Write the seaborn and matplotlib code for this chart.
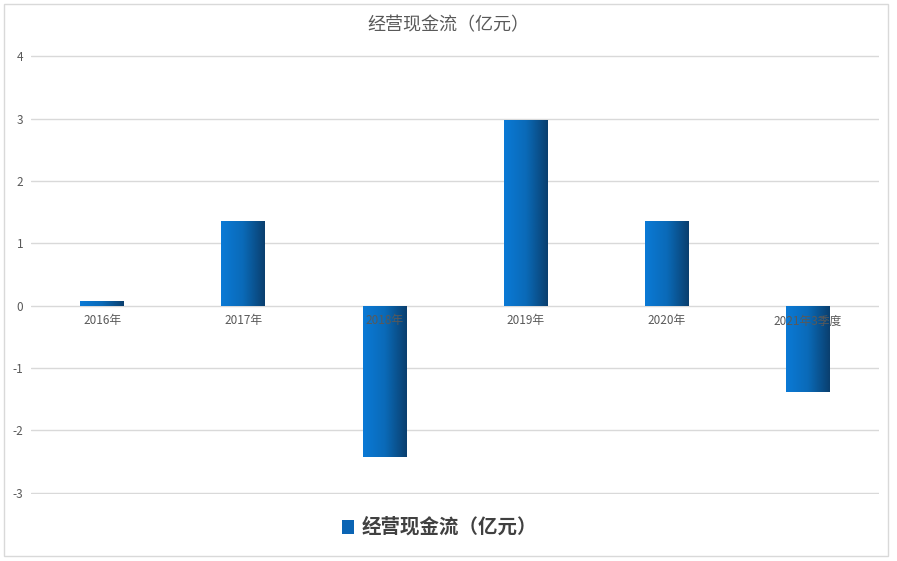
import matplotlib.pyplot as plt
import matplotlib.colors as mcolors
import numpy as np
import pandas as pd
import seaborn as sns

# data
categories = ["2016年", "2017年", "2018年", "2019年", "2020年", "2021年3季度"]
values = [0.08, 1.36, -2.43, 2.97, 1.36, -1.39]
title = "经营现金流（亿元）"

df = pd.DataFrame({"cat": categories, "val": values})

sns.set_theme(style="white")
plt.rcParams["font.family"] = ["Noto Sans CJK SC", "DejaVu Sans"]
plt.rcParams["axes.unicode_minus"] = False

fig = plt.figure(figsize=(8.97, 5.61), dpi=100)
ax = fig.add_axes([0.0351, 0.1194, 0.9443, 0.7826])

sns.barplot(data=df, x="cat", y="val", ax=ax, width=0.31, color="#0a6cc0",
            saturation=1, zorder=3)

# gradient fill (light blue on the left to dark navy on the right)
cmap = mcolors.LinearSegmentedColormap.from_list(
    "bar", ["#0b7ad6", "#0a6ab8", "#0a3f6e"])
grad = np.linspace(0, 1, 256).reshape(1, -1)
for p in ax.patches:
    x0, y0 = p.get_x(), p.get_y()
    w, h = p.get_width(), p.get_height()
    im = ax.imshow(grad, cmap=cmap, aspect="auto", zorder=4,
                   extent=[x0, x0 + w, min(y0, y0 + h), max(y0, y0 + h)])
    im.set_clip_path(p)
    p.set_edgecolor("none")

ax.set_xlim(-0.5, len(categories) - 0.5)
ax.set_ylim(-3.02, 4.02)
ax.set_yticks(range(-3, 5))
ax.yaxis.grid(True, color="#d9d9d9", linewidth=1, zorder=0)
ax.set_xlabel("")
ax.set_ylabel("")
for s in ax.spines.values():
    s.set_visible(False)
ax.tick_params(axis="y", length=0, pad=6, labelsize=8.5, labelcolor="#595959")

# category labels sit right under the zero line
ax.set_xticks([])
for i, c in enumerate(categories):
    ax.text(i, -0.14, c, ha="center", va="top", fontsize=8.5, color="#595959",
            zorder=5)

fig.text(0.5, 0.955, title, ha="center", va="center", fontsize=13,
         color="#595959")

# legend
fig.patches.append(plt.Rectangle((0.381, 0.049), 0.014, 0.024,
                                 transform=fig.transFigure,
                                 facecolor="#0a64b4", edgecolor="none"))
fig.text(0.403, 0.061, title, ha="left", va="center", fontsize=14,
         fontweight="bold", color="#404040")

# faint chart-area border
fig.patches.append(plt.Rectangle((0.0045, 0.009), 0.9855, 0.984,
                                 transform=fig.transFigure, fill=False,
                                 edgecolor="#d9d9d9", linewidth=1))

fig.savefig("out.png", dpi=100)
